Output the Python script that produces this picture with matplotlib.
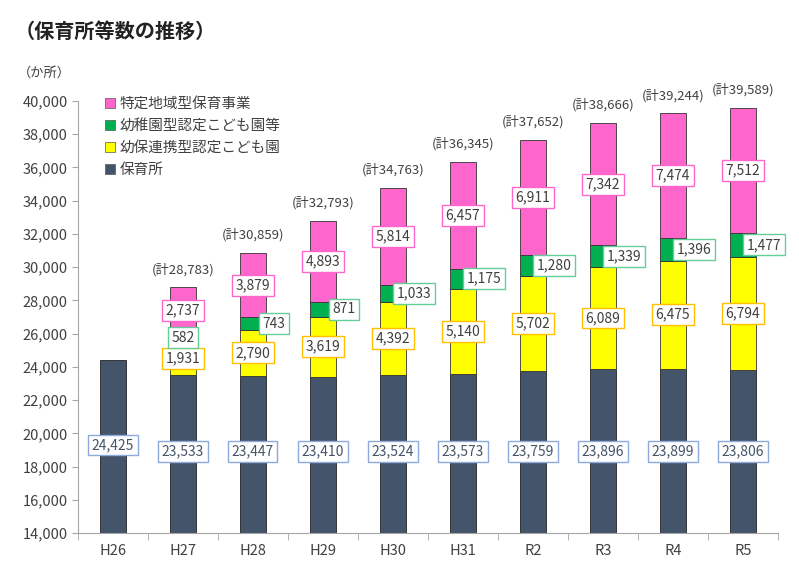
import matplotlib.pyplot as plt
from matplotlib.patches import Patch
import numpy as np

plt.rcParams['font.family'] = ['Noto Sans CJK JP', 'DejaVu Sans']

# data
years = ['H26', 'H27', 'H28', 'H29', 'H30', 'H31', 'R2', 'R3', 'R4', 'R5']
hoikusho = [24425, 23533, 23447, 23410, 23524, 23573, 23759, 23896, 23899, 23806]
yoho_renkei = [0, 1931, 2790, 3619, 4392, 5140, 5702, 6089, 6475, 6794]
yochien_gata = [0, 582, 743, 871, 1033, 1175, 1280, 1339, 1396, 1477]
tokutei = [0, 2737, 3879, 4893, 5814, 6457, 6911, 7342, 7474, 7512]
totals = [0, 28783, 30859, 32793, 34763, 36345, 37652, 38666, 39244, 39589]

c_navy = '#44546A'
c_yellow = '#FFFF00'
c_green = '#00B050'
c_pink = '#FF66CC'

fig = plt.figure(figsize=(7.99, 5.72), dpi=100)
ax = fig.add_axes([0.0976, 0.068, 0.876, 0.7556])

x = np.arange(len(years))
w = 0.37
h = np.array(hoikusho)
y1 = np.array(yoho_renkei)
y2 = np.array(yochien_gata)
y3 = np.array(tokutei)

ax.bar(x, h, w, color=c_navy, edgecolor='#222222', linewidth=0.6)
ax.bar(x[1:], y1[1:], w, bottom=h[1:], color=c_yellow, edgecolor='#333333', linewidth=0.6)
ax.bar(x[1:], y2[1:], w, bottom=(h + y1)[1:], color=c_green, edgecolor='#333333', linewidth=0.6)
ax.bar(x[1:], y3[1:], w, bottom=(h + y1 + y2)[1:], color=c_pink, edgecolor='#333333', linewidth=0.6)

def box(xx, yy, val, ec, tc='#404040'):
    ax.text(xx, yy, f'{val:,}', ha='center', va='center', fontsize=10, color=tc,
            bbox=dict(boxstyle='square,pad=0.25', fc='white', ec=ec, lw=1.0))

for i in range(len(years)):
    # 保育所 labels sit low on the bar
    box(x[i], 19300 if i == 0 else 18900, hoikusho[i], '#8EA9DB', tc='#44546A')
    if i == 0:
        continue
    box(x[i], h[i] + y1[i] / 2, yoho_renkei[i], '#FFC000')
    gx = x[i] if i == 1 else x[i] + 0.3
    box(gx, h[i] + y1[i] + y2[i] / 2, yochien_gata[i], '#66CC99')
    box(x[i], h[i] + y1[i] + y2[i] + y3[i] / 2, tokutei[i], c_pink)
    ax.annotate(f'(計{totals[i]:,})', (x[i], totals[i]), xytext=(0, 8),
                textcoords='offset points', ha='center', va='bottom',
                fontsize=9.5, color='#404040')

ax.set_xlim(-0.5, len(years) - 0.5)
ax.set_ylim(14000, 40000)
ax.set_yticks(range(14000, 40001, 2000))
ax.set_yticklabels([f'{v:,}' for v in range(14000, 40001, 2000)])
ax.set_xticks(x)
ax.set_xticklabels(years)
ax.set_xticks(np.arange(-0.5, len(years), 1), minor=True)
ax.tick_params(axis='x', which='major', length=0, pad=8, labelsize=10.5, labelcolor='#404040')
ax.tick_params(axis='x', which='minor', length=5, color='#A6A6A6')
ax.tick_params(axis='y', length=4, color='#A6A6A6', labelsize=10.5, labelcolor='#404040')

for s in ['top', 'right']:
    ax.spines[s].set_visible(False)
for s in ['left', 'bottom']:
    ax.spines[s].set_color('#A6A6A6')

handles = [Patch(fc=c_pink, ec='#555555', lw=0.5, label='特定地域型保育事業'),
           Patch(fc=c_green, ec='#555555', lw=0.5, label='幼稚園型認定こども園等'),
           Patch(fc=c_yellow, ec='#555555', lw=0.5, label='幼保連携型認定こども園'),
           Patch(fc=c_navy, ec='#555555', lw=0.5, label='保育所')]
leg = ax.legend(handles=handles, loc='upper left', bbox_to_anchor=(0.02, 1.04),
                frameon=False, fontsize=10.5, handlelength=0.7, handleheight=0.7,
                handletextpad=0.3, labelspacing=0.55)
for t in leg.get_texts():
    t.set_color('#404040')

fig.text(0.018, 0.933, '（保育所等数の推移）', fontsize=14.5, fontweight='bold', color='#222222')
fig.text(0.022, 0.865, '（か所）', fontsize=9.5, color='#404040')

fig.savefig('out.png', dpi=100)
